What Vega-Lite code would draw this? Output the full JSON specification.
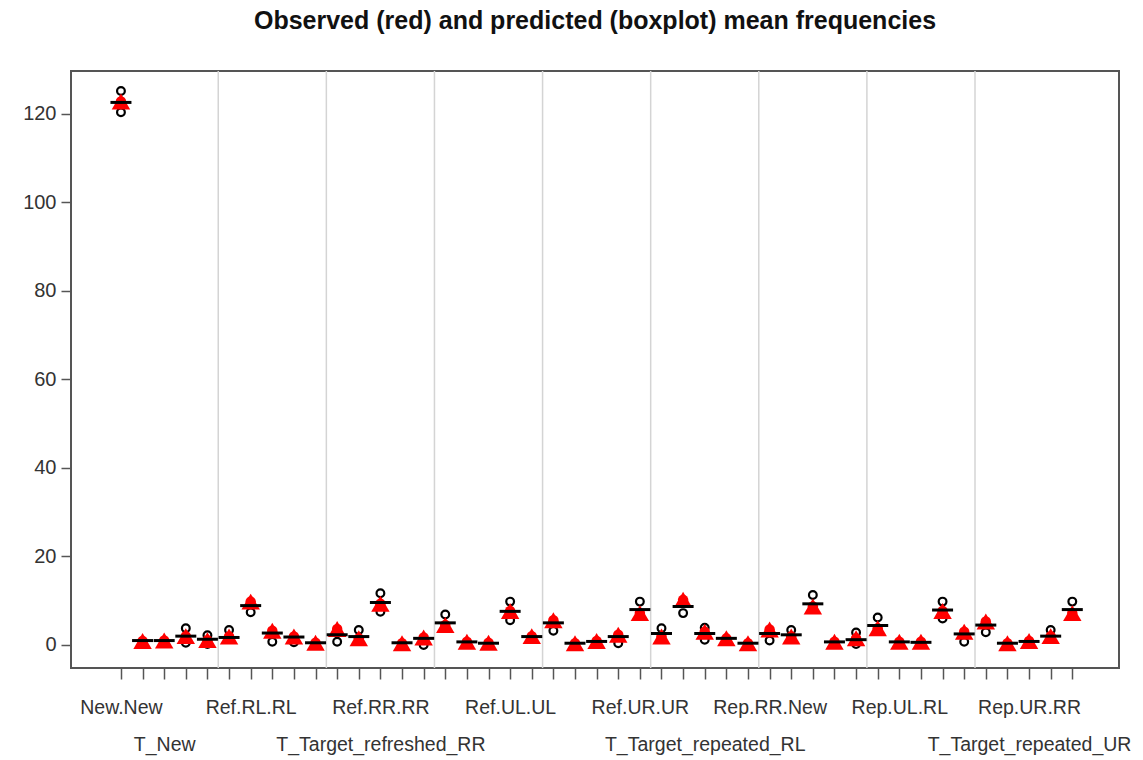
{
  "$schema": "https://vega.github.io/schema/vega-lite/v6.json",
  "autosize": {"type": "none"},
  "width": 1048,
  "height": 597,
  "padding": {"left": 71, "top": 71, "right": 24, "bottom": 92},
  "background": "white",
  "config": {
    "font": "Liberation Sans",
    "view": {"stroke": "#555555", "strokeWidth": 2}
  },
  "title": {
    "text": "Observed (red) and predicted (boxplot) mean frequencies",
    "font": "Liberation Sans",
    "fontSize": 25,
    "fontWeight": "bold",
    "color": "#111111",
    "anchor": "middle",
    "offset": 36
  },
  "resolve": {"axis": {"x": "independent"}},
  "datasets": {
    "items": [
      {"i": 1, "obs": 122.8, "med": 122.6},
      {"i": 2, "obs": 0.9, "med": 1.0},
      {"i": 3, "obs": 1.0, "med": 1.0},
      {"i": 4, "obs": 2.0, "med": 2.0},
      {"i": 5, "obs": 1.1, "med": 1.3},
      {"i": 6, "obs": 1.9, "med": 1.7},
      {"i": 7, "obs": 9.8, "med": 8.9},
      {"i": 8, "obs": 3.2, "med": 2.7},
      {"i": 9, "obs": 1.9, "med": 1.8},
      {"i": 10, "obs": 0.5, "med": 0.5},
      {"i": 11, "obs": 3.6, "med": 2.3},
      {"i": 12, "obs": 1.5, "med": 1.9},
      {"i": 13, "obs": 9.3, "med": 9.6},
      {"i": 14, "obs": 0.4, "med": 0.5},
      {"i": 15, "obs": 1.7, "med": 1.5},
      {"i": 16, "obs": 4.5, "med": 5.0},
      {"i": 17, "obs": 0.75, "med": 0.7},
      {"i": 18, "obs": 0.5, "med": 0.4},
      {"i": 19, "obs": 7.7, "med": 7.6},
      {"i": 20, "obs": 2.0, "med": 1.9},
      {"i": 21, "obs": 5.6, "med": 5.0},
      {"i": 22, "obs": 0.4, "med": 0.4},
      {"i": 23, "obs": 0.9, "med": 0.8},
      {"i": 24, "obs": 2.3, "med": 1.9},
      {"i": 25, "obs": 7.2, "med": 8.0},
      {"i": 26, "obs": 1.9, "med": 2.6},
      {"i": 27, "obs": 10.2, "med": 8.7},
      {"i": 28, "obs": 3.0, "med": 2.6},
      {"i": 29, "obs": 1.5, "med": 1.5},
      {"i": 30, "obs": 0.4, "med": 0.4},
      {"i": 31, "obs": 3.5, "med": 2.6},
      {"i": 32, "obs": 1.9, "med": 2.3},
      {"i": 33, "obs": 8.7, "med": 9.3},
      {"i": 34, "obs": 0.75, "med": 0.7},
      {"i": 35, "obs": 1.5, "med": 1.2},
      {"i": 36, "obs": 3.8, "med": 4.4},
      {"i": 37, "obs": 0.75, "med": 0.7},
      {"i": 38, "obs": 0.75, "med": 0.6},
      {"i": 39, "obs": 7.7, "med": 7.9},
      {"i": 40, "obs": 3.0, "med": 2.5},
      {"i": 41, "obs": 5.3, "med": 4.5},
      {"i": 42, "obs": 0.4, "med": 0.4},
      {"i": 43, "obs": 0.9, "med": 0.8},
      {"i": 44, "obs": 2.0, "med": 2.0},
      {"i": 45, "obs": 7.2, "med": 8.0}
    ],
    "outliers": [
      {"i": 1, "v": 125.2}, {"i": 1, "v": 120.4},
      {"i": 4, "v": 3.8}, {"i": 4, "v": 0.5},
      {"i": 5, "v": 2.2}, {"i": 5, "v": 0.2},
      {"i": 6, "v": 3.4},
      {"i": 7, "v": 7.4},
      {"i": 8, "v": 0.75},
      {"i": 9, "v": 0.6},
      {"i": 11, "v": 0.75},
      {"i": 12, "v": 3.4},
      {"i": 13, "v": 11.7}, {"i": 13, "v": 7.5},
      {"i": 15, "v": 0.0},
      {"i": 16, "v": 6.9},
      {"i": 19, "v": 9.8}, {"i": 19, "v": 5.6},
      {"i": 21, "v": 3.2},
      {"i": 24, "v": 0.4},
      {"i": 25, "v": 9.8},
      {"i": 26, "v": 3.8},
      {"i": 27, "v": 7.2},
      {"i": 28, "v": 3.9}, {"i": 28, "v": 1.2},
      {"i": 31, "v": 1.0},
      {"i": 32, "v": 3.4},
      {"i": 33, "v": 11.3},
      {"i": 35, "v": 2.8}, {"i": 35, "v": 0.2},
      {"i": 36, "v": 6.2},
      {"i": 39, "v": 9.8}, {"i": 39, "v": 6.0},
      {"i": 40, "v": 0.75},
      {"i": 41, "v": 2.9},
      {"i": 44, "v": 3.4},
      {"i": 45, "v": 9.8}
    ],
    "separators": [
      {"s": 5.5}, {"s": 10.5}, {"s": 15.5}, {"s": 20.5},
      {"s": 25.5}, {"s": 30.5}, {"s": 35.5}, {"s": 40.5}
    ]
  },
  "layer": [
    {
      "data": {"name": "separators"},
      "mark": {"type": "rule", "color": "#d4d4d4", "strokeWidth": 1.5},
      "encoding": {
        "x": {
          "field": "s", "type": "quantitative",
          "scale": {"domain": [-1.31, 47.16], "nice": false, "zero": false},
          "axis": {
            "orient": "bottom",
            "title": null,
            "values": [3, 13, 28, 43],
            "labelExpr": "datum.value == 3 ? 'T_New' : datum.value == 13 ? 'T_Target_refreshed_RR' : datum.value == 28 ? 'T_Target_repeated_RL' : datum.value == 43 ? 'T_Target_repeated_UR' : ''",
            "labelOverlap": false,
            "labelFlush": false,
            "labelBound": false,
            "labelLimit": 0,
            "labelAngle": 0,
            "labelAlign": "center",
            "labelBaseline": "top",
            "labelFont": "Liberation Sans",
            "labelFontSize": 19.5,
            "labelColor": "#333333",
            "labelPadding": 67,
            "ticks": false,
            "domain": false,
            "grid": false
          }
        }
      }
    },
    {
      "data": {"name": "outliers"},
      "mark": {"type": "point", "shape": "circle", "filled": false, "color": "#000000", "opacity": 1, "size": 60, "strokeWidth": 2.2},
      "encoding": {
        "x": {"field": "i", "type": "quantitative", "axis": null},
        "y": {"field": "v", "type": "quantitative"}
      }
    },
    {
      "data": {"name": "items"},
      "mark": {"type": "point", "shape": "circle", "filled": true, "color": "#ff0000", "opacity": 1, "size": 110},
      "encoding": {
        "x": {"field": "i", "type": "quantitative", "axis": null},
        "y": {"field": "obs", "type": "quantitative"}
      }
    },
    {
      "data": {"name": "items"},
      "mark": {"type": "point", "shape": "triangle-up", "filled": true, "color": "#ff0000", "opacity": 1, "size": 340},
      "encoding": {
        "x": {"field": "i", "type": "quantitative", "axis": null},
        "y": {"field": "obs", "type": "quantitative"}
      }
    },
    {
      "data": {"name": "items"},
      "mark": {"type": "tick", "orient": "horizontal", "color": "#000000", "size": 21, "thickness": 3, "opacity": 1},
      "encoding": {
        "x": {
          "field": "i", "type": "quantitative",
          "scale": {"domain": [-1.31, 47.16], "nice": false, "zero": false},
          "axis": {
            "orient": "bottom",
            "title": null,
            "values": [1,2,3,4,5,6,7,8,9,10,11,12,13,14,15,16,17,18,19,20,21,22,23,24,25,26,27,28,29,30,31,32,33,34,35,36,37,38,39,40,41,42,43,44,45],
            "labelExpr": "datum.value == 1 ? 'New.New' : datum.value == 7 ? 'Ref.RL.RL' : datum.value == 13 ? 'Ref.RR.RR' : datum.value == 19 ? 'Ref.UL.UL' : datum.value == 25 ? 'Ref.UR.UR' : datum.value == 31 ? 'Rep.RR.New' : datum.value == 37 ? 'Rep.UL.RL' : datum.value == 43 ? 'Rep.UR.RR' : ''",
            "labelOverlap": false,
            "labelFlush": false,
            "labelBound": false,
            "labelLimit": 0,
            "labelAngle": 0,
            "labelAlign": "center",
            "labelBaseline": "top",
            "labelFont": "Liberation Sans",
            "labelFontSize": 19.5,
            "labelColor": "#333333",
            "labelPadding": 19,
            "tickSize": 11,
            "tickColor": "#555555",
            "tickWidth": 1.5,
            "domain": false,
            "grid": false
          }
        },
        "y": {
          "field": "med", "type": "quantitative",
          "scale": {"domain": [-5.2, 129.7], "nice": false, "zero": false},
          "axis": {
            "title": null,
            "values": [0, 20, 40, 60, 80, 100, 120],
            "labelFont": "Liberation Sans",
            "labelFontSize": 20,
            "labelColor": "#333333",
            "labelPadding": 5,
            "tickSize": 10,
            "tickColor": "#555555",
            "tickWidth": 1.5,
            "domain": false,
            "grid": false
          }
        }
      }
    }
  ]
}
